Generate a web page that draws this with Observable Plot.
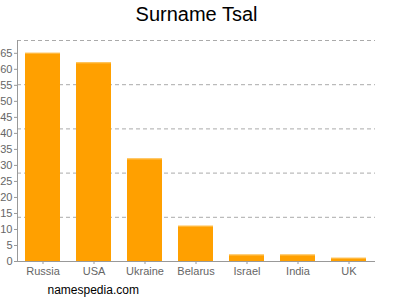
<!DOCTYPE html>
<html><head><meta charset="utf-8">
<script src="https://cdn.jsdelivr.net/npm/d3@7"></script>
<script src="https://cdn.jsdelivr.net/npm/@observablehq/plot@0.6"></script>
<style>body{margin:0;background:#fff;} svg{display:block;}</style>
</head><body>
<div id="chart"></div>
<script>
const countries = ["Russia", "USA", "Ukraine", "Belarus", "Israel", "India", "UK"];
const counts = [65, 62, 32, 11, 2, 2, 1];
const yTicks = [0, 5, 10, 15, 20, 25, 30, 35, 40, 45, 50, 55, 60, 65];
const gridValues = [13.8, 27.6, 41.4, 55.2, 69];
const title = "Surname Tsal";
const caption = "namespedia.com";

const data = countries.map((c, i) => ({country: c, count: counts[i]}));

const chart = Plot.plot({
  width: 400,
  height: 300,
  marginTop: 40,
  marginBottom: 39,
  marginLeft: 17,
  marginRight: 25,
  style: {fontFamily: "Liberation Sans, Arial, sans-serif", background: "#fff"},
  x: {domain: countries, paddingInner: 0.31, paddingOuter: 0.16, label: null},
  y: {domain: [0, 69], label: null},
  marks: [
    Plot.ruleY(gridValues, {stroke: "#aaa", strokeDasharray: "4,3", strokeWidth: 1}),
    Plot.barY(data, {x: "country", y: "count", fill: "#FFA000"}),
    Plot.tickY(data, {x: "country", y: "count", stroke: "#FFC050", strokeWidth: 1}),
    Plot.axisY({ticks: yTicks, tickSize: 3, tickPadding: 2, fontSize: 11, color: "#666", stroke: "#999", label: null}),
    Plot.axisX({tickSize: 3, tickPadding: 3, fontSize: 11, color: "#666", stroke: "#999", label: null}),
    Plot.ruleY([0], {stroke: "#999"}),
    Plot.frame({anchor: "left", stroke: "#999"}),
    Plot.text([title], {frameAnchor: "top", dy: -26, fontSize: 20, fill: "#000", lineAnchor: "middle"}),
    Plot.text([caption], {frameAnchor: "bottom-left", dx: 30, dy: 32, fontSize: 12, fill: "#000", textAnchor: "start"})
  ]
});
document.getElementById("chart").appendChild(chart);
</script>
</body></html>
